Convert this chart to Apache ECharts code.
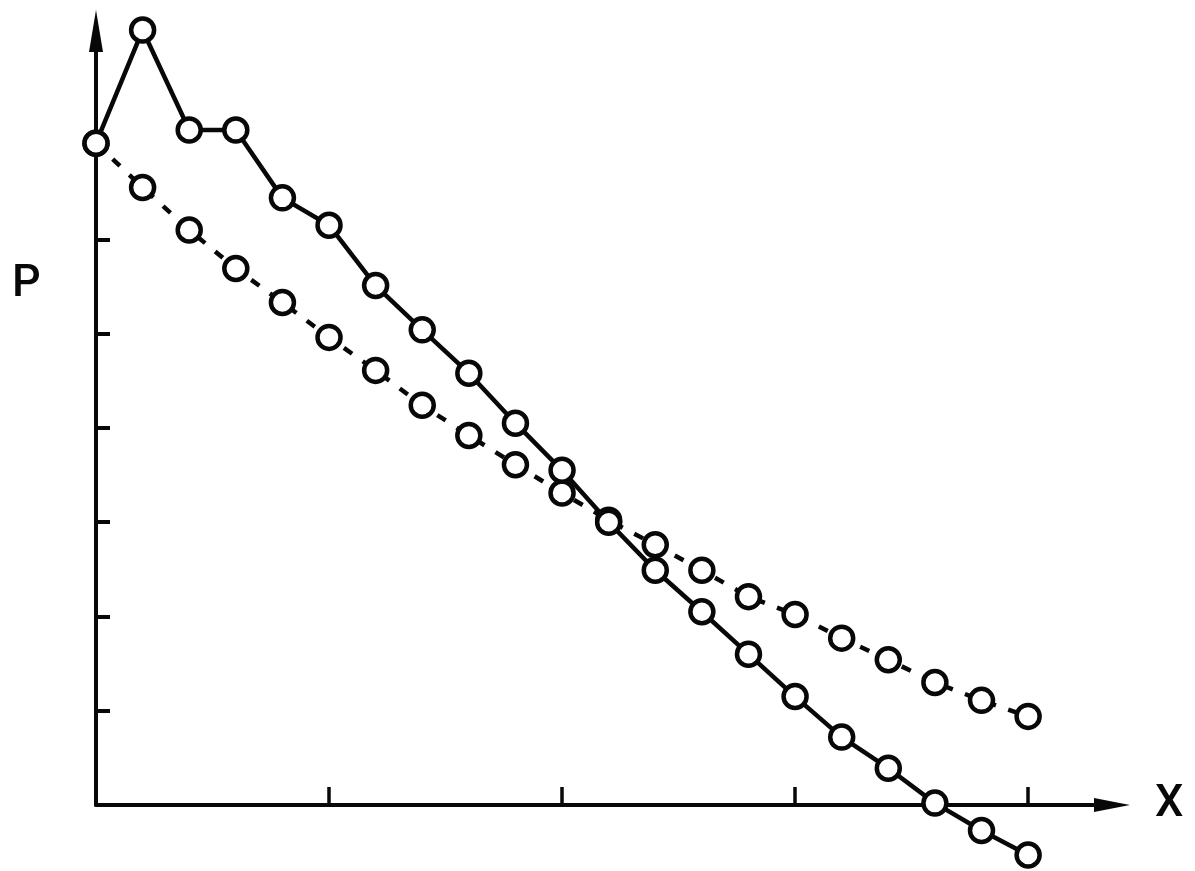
<!DOCTYPE html>
<html><head><meta charset="utf-8">
<script src="https://cdn.jsdelivr.net/npm/echarts@6/dist/echarts.min.js"></script>
<style>html,body{margin:0;padding:0;background:#fff}#c{width:1195px;height:871px}</style>
</head><body><div id="c"></div>
<script>
const xValues = [0,1,2,3,4,5,6,7,8,9,10,11,12,13,14,15,16,17,18,19,20];
const solidP = [7.02,8.22,7.16,7.16,6.44,6.15,5.51,5.04,4.58,4.05,3.55,3.00,2.49,2.05,1.60,1.15,0.72,0.39,0.02,-0.27,-0.53];
const dashedP = [7.02,6.55,6.10,5.69,5.33,4.96,4.61,4.24,3.92,3.61,3.31,3.02,2.76,2.49,2.21,2.02,1.77,1.54,1.30,1.11,0.94];
const xTickValues = [5,10,15,20];
const yTickValues = [1,2,3,4,5,6];
const xLabel = 'X';
const yLabel = 'P';

const ink = '#080808';
const pairs = arr => xValues.map((x,i)=>[x, arr[i]]);

const chart = echarts.init(document.getElementById('c'), null, {renderer:'canvas'});
const markerStyle = {color:'#fff', borderColor:ink, borderWidth:4.5};
chart.setOption({
  animation:false,
  backgroundColor:'#fff',
  grid:{left:96, right:83, top:31, bottom:66, containLabel:false},
  xAxis:{
    type:'value', min:0, max:21.8, interval:5,
    splitLine:{show:false},
    axisLine:{onZero:false, lineStyle:{color:ink, width:4}, symbol:['none','triangle'], symbolSize:[14,36]},
    axisTick:{inside:true, length:18, lineStyle:{color:ink, width:3.5}, customValues:xTickValues},
    axisLabel:{show:false},
    name:xLabel, nameLocation:'end', nameGap:43,
    nameTextStyle:{fontFamily:'Roboto', fontWeight:500, fontSize:45, color:ink, verticalAlign:'middle', align:'left'}
  },
  yAxis:{
    type:'value', min:0, max:8.21, interval:1,
    splitLine:{show:false},
    axisLine:{lineStyle:{color:ink, width:4}, symbol:['none','triangle'], symbolSize:[14,42]},
    axisTick:{inside:true, length:14, lineStyle:{color:ink, width:4}, customValues:yTickValues},
    axisLabel:{show:false}
  },
  graphic:[{
    type:'text', left:12, top:262,
    style:{text:yLabel, font:'500 45px Roboto', fill:ink}
  }],
  series:[
    {type:'line', data:pairs(dashedP), clip:false, symbol:'circle', symbolSize:23,
     lineStyle:{color:ink, width:4.5, type:[10,13]}, itemStyle:markerStyle, z:3},
    {type:'line', data:pairs(solidP), clip:false, symbol:'circle', symbolSize:23,
     lineStyle:{color:ink, width:4.5}, itemStyle:markerStyle, z:4}
  ]
});
</script></body></html>
